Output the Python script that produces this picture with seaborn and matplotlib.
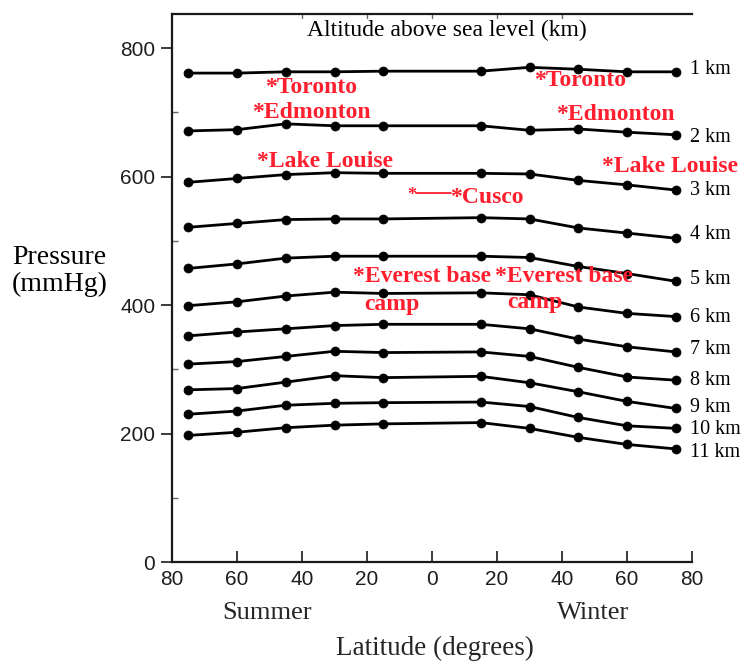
import matplotlib
matplotlib.use("Agg")
import matplotlib.pyplot as plt
from matplotlib.ticker import FuncFormatter, FixedLocator
import numpy as np
import pandas as pd
import seaborn as sns

# Latitude of each sounding: negative = summer hemisphere, positive = winter hemisphere
latitude = [-75, -60, -45, -30, -15, 15, 30, 45, 60, 75]

altitude_labels = ["1 km", "2 km", "3 km", "4 km", "5 km", "6 km",
                   "7 km", "8 km", "9 km", "10 km", "11 km"]

# Barometric pressure (mmHg) at each altitude along the latitude transect
p_1km = [761, 761, 763, 763, 764, 764, 770, 767, 763, 763]
p_2km = [671, 673, 682, 679, 679, 679, 672, 674, 669, 665]
p_3km = [591, 597, 603, 606, 605, 605, 604, 594, 587, 579]
p_4km = [521, 527, 533, 534, 534, 536, 534, 520, 512, 504]
p_5km = [457, 464, 473, 476, 476, 476, 474, 460, 449, 437]
p_6km = [399, 405, 414, 420, 418, 419, 416, 397, 387, 382]
p_7km = [352, 358, 363, 368, 370, 370, 363, 347, 335, 327]
p_8km = [308, 312, 320, 328, 326, 327, 320, 303, 288, 283]
p_9km = [268, 270, 280, 290, 287, 289, 279, 265, 250, 239]
p_10km = [230, 235, 244, 247, 248, 249, 242, 225, 212, 208]
p_11km = [197, 202, 209, 213, 215, 217, 208, 194, 183, 176]

series = [p_1km, p_2km, p_3km, p_4km, p_5km, p_6km,
          p_7km, p_8km, p_9km, p_10km, p_11km]

# vertical nudge (mmHg) of each altitude tag relative to its last point
tag_nudge = [4, -4, 0, 6, 2, -1, 4, 0, 2, -1, -5]

df = pd.DataFrame({
    "latitude": np.tile(latitude, len(series)),
    "pressure": np.concatenate(series),
    "altitude": np.repeat(altitude_labels, len(latitude)),
})

sns.set_style("ticks")
plt.rcParams["font.family"] = ["Liberation Serif", "DejaVu Serif"]

W, H = 742, 664
fig = plt.figure(figsize=(W / 100, H / 100), dpi=100)
ax = fig.add_axes([172 / W, (H - 562) / H, 520 / W, 548 / H])

sns.lineplot(data=df, x="latitude", y="pressure", units="altitude",
             estimator=None, sort=False, color="black", marker="o",
             markersize=6.5, markeredgecolor="black", markeredgewidth=0.5,
             linewidth=2.0, legend=False, ax=ax)

ax.set_xlim(-80, 80)
ax.set_ylim(0, 853)
ax.set_xlabel("")
ax.set_ylabel("")

for side in ["left", "bottom", "top"]:
    ax.spines[side].set_linewidth(1.6)
    ax.spines[side].set_color("#1a1a1a")
ax.spines["right"].set_visible(False)

ax.xaxis.set_major_locator(FixedLocator([-80, -60, -40, -20, 0, 20, 40, 60, 80]))
ax.xaxis.set_major_formatter(FuncFormatter(lambda v, _: f"{abs(int(v))}"))
ax.tick_params(axis="x", which="major", direction="in", length=8, width=1.2,
               bottom=True, top=False, pad=6, color="#1a1a1a")
# faint short ticks along the top border
for xt in [-40, -20, 0, 20, 40]:
    ax.plot([xt, xt], [853, 847], color="#666666", linewidth=1.0,
            clip_on=False)
ax.yaxis.set_major_locator(FixedLocator([0, 200, 400, 600, 800]))
ax.yaxis.set_minor_locator(FixedLocator([100, 300, 500, 700]))
ax.tick_params(axis="y", which="major", direction="out", length=8, width=1.2,
               pad=4, color="#1a1a1a")
ax.tick_params(axis="y", which="minor", direction="in", length=4, width=1.0,
               color="#666666")
for lab in ax.get_xticklabels() + ax.get_yticklabels():
    lab.set_fontfamily(["Liberation Sans", "DejaVu Sans"])
    lab.set_fontsize(15)
    lab.set_color("#1e1e1e")

# altitude tags on the right
for name, vals, dy in zip(altitude_labels, series, tag_nudge):
    ax.text(79.3, vals[-1] + dy, name, ha="left", va="center",
            fontsize=14.5, color="black", clip_on=False)

ax.text(4.6, 828, "Altitude above sea level (km)", ha="center", va="center",
        fontsize=17, color="black")

red = "#ff1f2e"
rkw = dict(color=red, fontsize=17, fontweight="bold", va="center", ha="left")
ax.text(-51.4, 739, "*Toronto", **rkw)
ax.text(-55.4, 699, "*Edmonton", **rkw)
ax.text(-53.8, 623, "*Lake Louise", **rkw)
ax.text(31.4, 750, "*Toronto", **rkw)
ax.text(38.2, 696, "*Edmonton", **rkw)
ax.text(52.3, 616, "*Lake Louise", **rkw, clip_on=False)
ax.text(-7.6, 571, "*", color=red, fontsize=13, fontweight="bold",
        va="center", ha="left")
ax.plot([-5.0, 5.8], [575, 575], color=red, linewidth=1.3)
ax.text(5.6, 567, "*Cusco", **rkw)
ax.text(-24.3, 444, "*Everest base", **rkw)
ax.text(-20.9, 401, "camp", **rkw)
ax.text(19.4, 444, "*Everest base", **rkw)
ax.text(23.1, 404, "camp", **rkw)

fig.text(12 / W, 1 - 271 / H, "Pressure\n(mmHg)", ha="left", va="center",
         fontsize=20, linespacing=1.05, color="black")
fig.text(267 / W, 1 - 613 / H, "Summer", ha="center", va="center", fontsize=19)
fig.text(593 / W, 1 - 613 / H, "Winter", ha="center", va="center", fontsize=19)
fig.text(435 / W, 1 - 648 / H, "Latitude (degrees)", ha="center", va="center",
         fontsize=19.5)

fig.savefig("out.png", dpi=100, facecolor="white")
